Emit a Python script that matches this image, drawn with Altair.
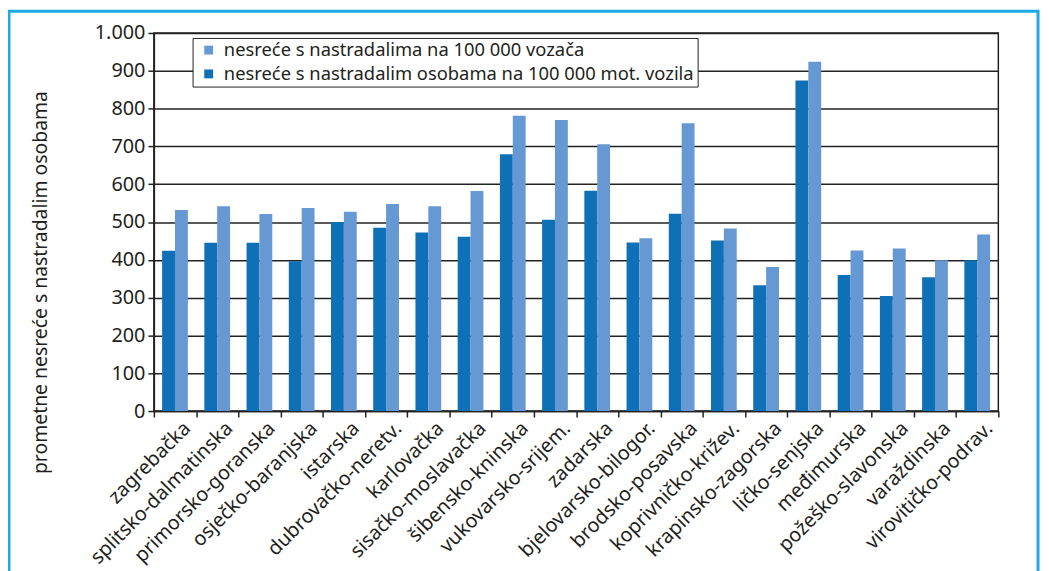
import altair as alt
import pandas as pd

zupanije = ["zagrebačka", "splitsko-dalmatinska", "primorsko-goranska", "osječko-baranjska",
            "istarska", "dubrovačko-neretv.", "karlovačka", "sisačko-moslavačka",
            "šibensko-kninska", "vukovarsko-srijem.", "zadarska", "bjelovarsko-bilogor.",
            "brodsko-posavska", "koprivničko-križev.", "krapinsko-zagorska", "ličko-senjska",
            "međimurska", "požeško-slavonska", "varaždinska", "virovitičko-podrav."]

na_vozila = [424, 445, 445, 396, 500, 485, 472, 461, 679, 506,
             583, 446, 522, 451, 333, 874, 360, 304, 354, 399]
na_vozace = [532, 542, 521, 537, 527, 548, 542, 582, 781, 770,
             706, 457, 761, 483, 381, 924, 425, 430, 399, 467]

s_vozaci = "nesreće s nastradalima na 100 000 vozača"
s_vozila = "nesreće s nastradalim osobama na 100 000 mot. vozila"

rows = []
for z, a, b in zip(zupanije, na_vozila, na_vozace):
    rows.append({"zupanija": z, "serija": s_vozila, "vrijednost": a})
    rows.append({"zupanija": z, "serija": s_vozaci, "vrijednost": b})
df = pd.DataFrame(rows)

FONT = "Noto Sans"
TXT = "#231f20"

W, H = 851, 381
PL, PT = 147, 23
CW, CH = 1041, 563

bars = alt.Chart(df).mark_bar().encode(
    x=alt.X("zupanija:N", sort=zupanije, title=None,
            scale=alt.Scale(paddingInner=0, paddingOuter=0),
            axis=alt.Axis(labelAngle=-45, tickBand="extent", labelFontSize=20,
                          labelColor=TXT, labelFont=FONT, domainColor="#222",
                          tickColor="#222", tickSize=6, labelPadding=8,
                          labelOffset=12, labelBaseline="middle", labelAlign="right",
                          labelLimit=400, labelOverlap=False,
                          domainWidth=1.5, tickWidth=1.5)),
    xOffset=alt.XOffset("serija:N", sort=[s_vozila, s_vozaci],
                        scale=alt.Scale(paddingInner=0, paddingOuter=0.64)),
    y=alt.Y("vrijednost:Q", scale=alt.Scale(domain=[0, 1000], nice=False),
            title="prometne nesreće s nastradalim osobama",
            axis=alt.Axis(values=list(range(0, 1001, 100)),
                          labelExpr="datum.value >= 1000 ? '1.000' : datum.label",
                          labelFontSize=20, labelColor=TXT, labelFont=FONT,
                          titleFont=FONT, titleFontSize=19.5, titleFontWeight="normal",
                          titleColor=TXT, titleY=251, titleX=-104,
                          gridColor="#222", gridWidth=1.5, domainColor="#222",
                          domainWidth=1.5, tickColor="#222", tickSize=6,
                          tickWidth=1.5, labelPadding=3)),
    color=alt.Color("serija:N", scale=alt.Scale(domain=[s_vozaci, s_vozila],
                                                range=["#6699d3", "#0e71b8"]),
                    legend=alt.Legend(title=None, orient="none", legendX=39, legendY=5,
                                      strokeColor="#222", fillColor="white",
                                      padding=3, labelFontSize=18.5, labelFont=FONT,
                                      labelColor=TXT, symbolType="square", symbolSize=80,
                                      symbolStrokeWidth=0, rowPadding=5, labelLimit=700,
                                      labelOffset=6, symbolOffset=4)),
)

frame = alt.Chart(alt.Data(values=[{}])).mark_rect(
    filled=False, stroke="#1eaae6", strokeWidth=3, clip=False
).encode(
    x=alt.value(-PL + 1), x2=alt.value(CW - PL - 3),
    y=alt.value(-PT + 1), y2=alt.value(700),
)

chart = alt.layer(frame, bars).properties(
    width=W, height=H,
    autosize=alt.AutoSizeParams(type="none"),
    padding={"left": PL, "top": PT, "right": CW - PL - W, "bottom": CH - PT - H},
    background="white",
).configure_view(stroke="#222", strokeWidth=1.5)

chart.save("out.html", embed_options={"renderer": "svg", "actions": False})
